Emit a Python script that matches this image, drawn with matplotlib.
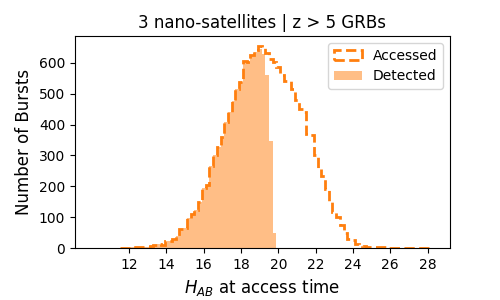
import matplotlib
matplotlib.use("Agg")
import matplotlib.pyplot as plt
import numpy as np

# bin edges of the H_AB histogram (width 0.2 mag)
edges = np.round(np.arange(11.5, 28.31, 0.2), 2)

# burst counts per bin
accessed = [
    1, 1,
    0, 2, 3, 2, 4, 5, 6, 10, 14, 11,
    22, 22, 28, 40, 62, 66, 97, 112, 122, 150,
    195, 205, 267, 303, 326, 359, 408, 440, 477, 515,
    538, 607, 603, 624, 640, 654, 648, 632, 612, 603,
    585, 560, 542, 540, 515, 480, 450, 440, 370, 365,
    300, 260, 232, 190, 153, 118, 100, 75, 48, 30,
    26, 12, 10, 8, 5, 4, 3, 2, 2, 2,
    1, 1, 1, 0, 1, 0, 1, 0, 1, 1,
    0, 1,
]
detected = accessed[:36] + [636, 645, 629, 559, 347, 50] + [0] * 42

xticks = np.arange(12, 29, 2)


def main():
    centers = 0.5 * (edges[:-1] + edges[1:])

    fig, ax = plt.subplots(figsize=(5, 3), dpi=100)
    fig.subplots_adjust(left=0.15, right=0.9, bottom=0.173, top=0.88)

    ax.hist(centers, bins=edges, weights=accessed, histtype="step",
            linestyle="--", linewidth=2, color="C1", label="Accessed")
    ax.hist(centers, bins=edges, weights=detected, color="C1", alpha=0.5,
            label="Detected")

    ax.set_xlim(9.1, 29.2)
    ax.set_xticks(xticks)
    ax.set_xlabel("$H_{AB}$ at access time", fontsize=12)
    ax.set_ylabel("Number of Bursts", fontsize=12)
    ax.set_title("3 nano-satellites | z > 5 GRBs", fontsize=12)
    ax.legend(loc="upper right")

    fig.savefig("out.png", dpi=100)


if __name__ == '__main__':
    main()
